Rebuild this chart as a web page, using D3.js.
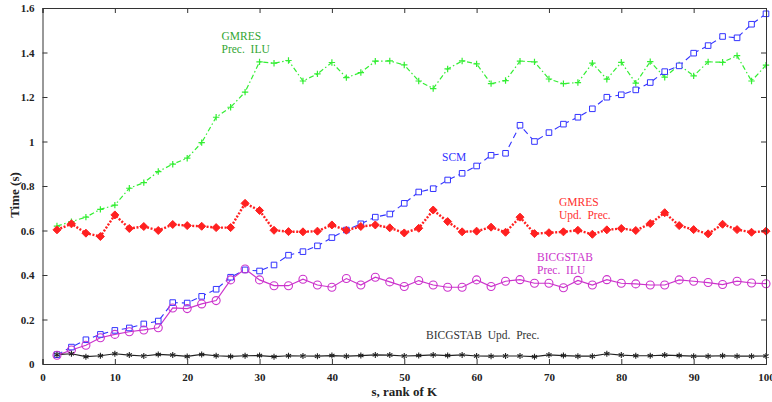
<!DOCTYPE html>
<html>
<head>
<meta charset="utf-8">
<script src="https://cdn.jsdelivr.net/npm/d3@7"></script>
<style>
  body { margin: 0; background: #fff; }
  svg text { font-family: "Liberation Serif", "Times New Roman", "DejaVu Serif", serif; }
</style>
</head>
<body>
<div id="chart"></div>
<script>
// rank s
const ranks = d3.range(2, 101, 2);

const gmresIlu = [0.62, 0.64, 0.66, 0.695, 0.714, 0.79, 0.815, 0.865, 0.898, 0.925,
  0.995, 1.109, 1.154, 1.222, 1.358, 1.352, 1.364, 1.272, 1.304, 1.355,
  1.287, 1.31, 1.361, 1.362, 1.344, 1.272, 1.238, 1.326, 1.362, 1.349,
  1.26, 1.274, 1.361, 1.358, 1.281, 1.26, 1.265, 1.352, 1.28, 1.356,
  1.262, 1.359, 1.289, 1.344, 1.295, 1.358, 1.356, 1.386, 1.272, 1.343];

const scm = [0.042, 0.076, 0.109, 0.133, 0.151, 0.162, 0.18, 0.193, 0.276, 0.274,
  0.304, 0.336, 0.39, 0.423, 0.418, 0.445, 0.489, 0.505, 0.531, 0.568,
  0.602, 0.63, 0.66, 0.674, 0.722, 0.773, 0.788, 0.827, 0.857, 0.89,
  0.938, 0.947, 1.073, 1.0, 1.04, 1.078, 1.109, 1.147, 1.199, 1.21,
  1.232, 1.265, 1.314, 1.34, 1.397, 1.431, 1.472, 1.466, 1.527, 1.574];

const gmresUpd = [0.603, 0.63, 0.588, 0.573, 0.67, 0.609, 0.618, 0.6, 0.627, 0.622,
  0.619, 0.613, 0.613, 0.722, 0.69, 0.601, 0.595, 0.594, 0.597, 0.625,
  0.601, 0.618, 0.625, 0.612, 0.589, 0.61, 0.692, 0.64, 0.594, 0.597,
  0.615, 0.592, 0.66, 0.586, 0.59, 0.594, 0.601, 0.583, 0.603, 0.609,
  0.6, 0.631, 0.68, 0.622, 0.604, 0.585, 0.628, 0.604, 0.592, 0.597];

const bicgIlu = [0.039, 0.063, 0.084, 0.118, 0.133, 0.145, 0.153, 0.163, 0.252, 0.249,
  0.27, 0.285, 0.378, 0.427, 0.378, 0.352, 0.352, 0.381, 0.355, 0.345,
  0.384, 0.355, 0.39, 0.369, 0.348, 0.375, 0.355, 0.345, 0.345, 0.378,
  0.348, 0.372, 0.379, 0.363, 0.363, 0.343, 0.376, 0.355, 0.379, 0.363,
  0.36, 0.355, 0.355, 0.378, 0.372, 0.366, 0.357, 0.372, 0.364, 0.361];

const bicgUpd = [0.042, 0.046, 0.033, 0.037, 0.046, 0.04, 0.036, 0.043, 0.04, 0.034,
  0.043, 0.037, 0.034, 0.037, 0.038, 0.033, 0.037, 0.036, 0.035, 0.038,
  0.035, 0.038, 0.041, 0.04, 0.036, 0.038, 0.041, 0.038, 0.041, 0.036,
  0.035, 0.036, 0.036, 0.033, 0.041, 0.038, 0.035, 0.035, 0.046, 0.04,
  0.037, 0.037, 0.04, 0.038, 0.035, 0.035, 0.037, 0.035, 0.035, 0.036];

const xTicks = d3.range(0, 101, 10);
const yTicks = [0, 0.2, 0.4, 0.6, 0.8, 1, 1.2, 1.4, 1.6];

const serif = "Liberation Serif, Times New Roman, DejaVu Serif, serif";

const width = 772, height = 402;
const margin = { top: 8, right: 6, bottom: 38, left: 42.5 };

const svg = d3.select("#chart").append("svg")
  .attr("width", width)
  .attr("height", height);

const x = d3.scaleLinear().domain([0, 100]).range([margin.left, width - margin.right]);
const y = d3.scaleLinear().domain([0, 1.6]).range([height - margin.bottom, margin.top]);

// marker paths
function plus(s) { return `M${-s},0H${s}M0,${-s}V${s}`; }
function star(s) {
  let p = "";
  for (let k = 0; k < 3; k++) {
    const a = Math.PI / 2 + k * Math.PI / 3;
    const dx = s * Math.cos(a), dy = s * Math.sin(a);
    p += `M${-dx},${-dy}L${dx},${dy}`;
  }
  return p;
}
function square(s) { return `M${-s},${-s}H${s}V${s}H${-s}Z`; }
function diamond(s) { return `M0,${-s}L${s},0L0,${s}L${-s},0Z`; }
function circle(s) { return d3.arc()({ innerRadius: 0, outerRadius: s, startAngle: 0, endAngle: 2 * Math.PI }); }

const series = [
  { values: gmresIlu, color: "#33ee33", dash: "5,2.5,1.5,2.5", width: 1.2, marker: plus(3.2), fill: "none", mw: 1.2 },
  { values: scm, color: "#3333ff", dash: "6,4", width: 1.1, marker: square(2.8), fill: "#fff", mw: 1 },
  { values: gmresUpd, color: "#ff2020", dash: "2,1.6", width: 2.4, marker: diamond(4), fill: "#ff2020", mw: 1 },
  { values: bicgIlu, color: "#cc33cc", dash: null, width: 1.2, marker: circle(4), fill: "none", mw: 1.1 },
  { values: bicgUpd, color: "#222", dash: null, width: 1.2, marker: star(3), fill: "none", mw: 1.1 }
];

const line = d3.line().x((d, i) => x(ranks[i])).y(d => y(d));

const plot = svg.append("g");
series.forEach(s => {
  plot.append("path")
    .attr("d", line(s.values))
    .attr("fill", "none")
    .attr("stroke", s.color)
    .attr("stroke-width", s.width)
    .attr("stroke-dasharray", s.dash);
});
series.forEach(s => {
  plot.selectAll(null)
    .data(s.values)
    .join("path")
    .attr("transform", (d, i) => `translate(${x(ranks[i])},${y(d)})`)
    .attr("d", s.marker)
    .attr("fill", s.fill)
    .attr("stroke", s.color)
    .attr("stroke-width", s.mw);
});

// axes box with inward ticks
const tickFont = g => g.selectAll("text")
  .attr("font-family", serif)
  .attr("font-weight", "bold")
  .attr("font-size", 11)
  .attr("fill", "#222");

svg.append("g")
  .attr("transform", `translate(0,${y(0)})`)
  .call(d3.axisBottom(x).tickValues(xTicks).tickSize(-5).tickPadding(9).tickFormat(d3.format("d")))
  .call(g => g.select(".domain").attr("stroke", "#333"))
  .call(g => g.selectAll(".tick line").attr("stroke", "#333"))
  .call(tickFont);

svg.append("g")
  .attr("transform", `translate(0,${y(1.6)})`)
  .call(d3.axisTop(x).tickValues(xTicks).tickSize(-5).tickFormat(""))
  .call(g => g.select(".domain").attr("stroke", "#333"))
  .call(g => g.selectAll(".tick line").attr("stroke", "#333"));

svg.append("g")
  .attr("transform", `translate(${x(0)},0)`)
  .call(d3.axisLeft(y).tickValues(yTicks).tickSize(-5).tickPadding(8).tickFormat(d => d3.format("")(+d.toFixed(1))))
  .call(g => g.select(".domain").attr("stroke", "#333"))
  .call(g => g.selectAll(".tick line").attr("stroke", "#333"))
  .call(tickFont);

svg.append("g")
  .attr("transform", `translate(${x(100)},0)`)
  .call(d3.axisRight(y).tickValues(yTicks).tickSize(-5).tickFormat(""))
  .call(g => g.select(".domain").attr("stroke", "#333"))
  .call(g => g.selectAll(".tick line").attr("stroke", "#333"));

// axis titles
svg.append("text")
  .attr("x", x(50))
  .attr("y", 396)
  .attr("text-anchor", "middle")
  .attr("font-family", serif)
  .attr("font-weight", "bold")
  .attr("font-size", 13)
  .attr("fill", "#222")
  .text("s, rank of K");

svg.append("text")
  .attr("transform", "translate(19,195) rotate(-90)")
  .attr("text-anchor", "middle")
  .attr("font-family", serif)
  .attr("font-weight", "bold")
  .attr("font-size", 13)
  .attr("fill", "#222")
  .text("Time (s)");

// series labels
const labels = [
  { lines: ["GMRES", "Prec.  ILU"], x: 221.5, y: 40, color: "#33a633" },
  { lines: ["SCM"], x: 442, y: 161, color: "#3333ff" },
  { lines: ["GMRES", "Upd.  Prec."], x: 559, y: 206, color: "#ff3030" },
  { lines: ["BICGSTAB", "Prec.  ILU"], x: 537, y: 261, color: "#cc33cc" },
  { lines: ["BICGSTAB  Upd.  Prec."], x: 426, y: 339, color: "#333" }
];
labels.forEach(l => {
  const t = svg.append("text")
    .attr("font-family", serif)
    .attr("font-size", 11.5)
    .attr("fill", l.color)
    .style("white-space", "pre");
  l.lines.forEach((s, i) => {
    t.append("tspan").attr("x", l.x).attr("y", l.y + i * 12.5).text(s);
  });
});
</script>
</body>
</html>
